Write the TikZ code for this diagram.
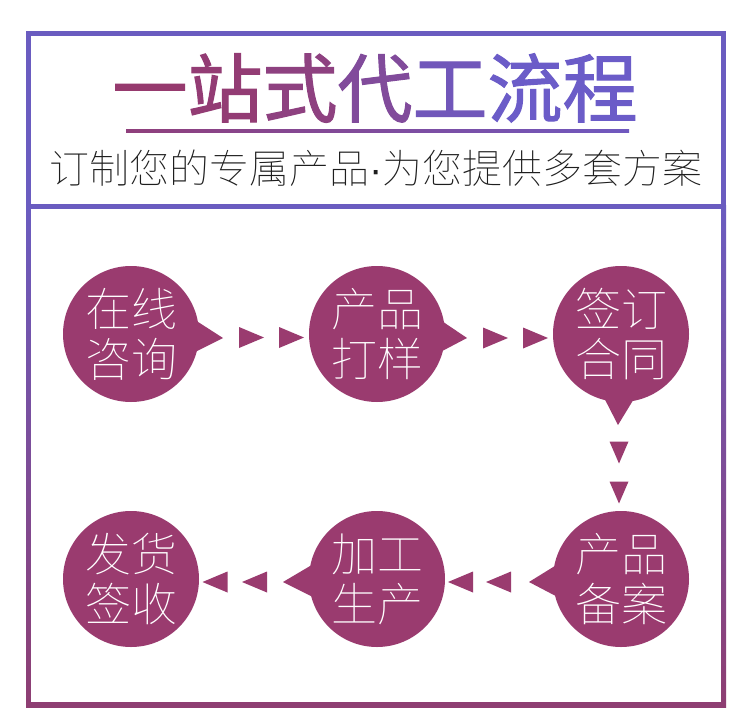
\documentclass[tikz,border=0pt]{standalone}
\usepackage{fontspec}
\newfontfamily\cjk{Noto Sans CJK SC}
\newfontfamily\cjktitle{Noto Sans CJK SC}[FakeBold=1.5]
\newfontfamily\cjklight{Noto Sans CJK SC Thin}
\newfontfamily\latinfont{Liberation Sans}
\usetikzlibrary{calc}
\definecolor{plum}{RGB}{154,59,111}
\definecolor{purp}{RGB}{106,92,192}
\definecolor{titlepurp}{RGB}{107,92,200}
\definecolor{titleplum}{RGB}{150,58,110}
\definecolor{framebot}{RGB}{142,62,114}
\definecolor{subtext}{RGB}{30,30,30}
\colorlet{tA}{titleplum}
\colorlet{tB}{titleplum!94!titlepurp}
\colorlet{tC}{titleplum!80!titlepurp}
\colorlet{tD}{titleplum!50!titlepurp}
\colorlet{tE}{titleplum!15!titlepurp}
\colorlet{tF}{titlepurp}
\begin{document}
\begin{tikzpicture}[x=1pt,y=-1pt,
  bub/.style={circle, fill=plum, minimum size=136pt, inner sep=0pt,
    text=white, align=center, font=\cjklight\fontsize{46}{50}\selectfont},
  rtri/.pic={\fill[plum] (-12,-10.5) -- (13,0) -- (-12,10.5) -- cycle;},
  ltri/.pic={\fill[plum] (12,-10.5) -- (-13,0) -- (12,10.5) -- cycle;},
  dtri/.pic={\fill[plum] (-9.5,-11) -- (9.5,-11) -- (0,11) -- cycle;}]
\useasboundingbox (0,0) rectangle (750,718);
\fill[white] (0,0) rectangle (750,718);
% frame
\fill[purp] (26,31) rectangle (726,209);
\shade[top color=purp, bottom color=framebot] (26,205) rectangle (726,707);
\fill[white] (31,36) rectangle (721,204);
\fill[white] (31,209) rectangle (721,702);
% title
\node[font=\cjktitle\fontsize{75}{75}\selectfont, inner sep=0pt] (title) at (375,88)
  {\textcolor{tA}{一}\textcolor{tB}{站}\textcolor{tC}{式}\textcolor{tD}{代}\textcolor{tE}{工}\textcolor{tF}{流}\textcolor{tF}{程}};
\shade[left color=titleplum!85!titlepurp, right color=titlepurp!90!titleplum] (126,129.5) rectangle (629,132.5);
\node[font=\cjklight\fontsize{40}{40}\selectfont, text=subtext, inner sep=0pt] (sub) at (376,168)
  {订制您的专属产品{\latinfont ·}为您提供多套方案};
% bubbles
\node[bub] (c1) at (131,334) {在线\\咨询};
\node[bub] (c2) at (377,334) {产品\\打样};
\node[bub] (c3) at (621,334) {签订\\合同};
\node[bub] (c4) at (621,579) {产品\\备案};
\node[bub] (c5) at (377,579) {加工\\生产};
\node[bub] (c6) at (131,579) {发货\\签收};
% pointers
\fill[plum] ($(c1)+(50,-23)$) -- ($(c1)+(92,4)$) -- ($(c1)+(50,25)$) -- cycle;
\fill[plum] ($(c2)+(50,-23)$) -- ($(c2)+(90,4)$) -- ($(c2)+(50,25)$) -- cycle;
\fill[plum] ($(c3)+(-24,50)$) -- ($(c3)+(-3,91)$) -- ($(c3)+(22,50)$) -- cycle;
\fill[plum] ($(c4)+(-50,-23)$) -- ($(c4)+(-92,3)$) -- ($(c4)+(-50,25)$) -- cycle;
\fill[plum] ($(c5)+(-50,-23)$) -- ($(c5)+(-94,3)$) -- ($(c5)+(-50,25)$) -- cycle;
% arrow chains
\pic at ($(c1)+(120,3.5)$) {rtri};
\pic at ($(c1)+(160,3.5)$) {rtri};
\pic at ($(c2)+(118,4)$) {rtri};
\pic at ($(c2)+(158,4)$) {rtri};
\pic at ($(c3)+(-2,118.5)$) {dtri};
\pic at ($(c3)+(-2,158.5)$) {dtri};
\pic at ($(c4)+(-122,3)$) {ltri};
\pic at ($(c4)+(-160,3)$) {ltri};
\pic at ($(c5)+(-122,3)$) {ltri};
\pic at ($(c5)+(-161.5,3)$) {ltri};
\end{tikzpicture}
\end{document}
